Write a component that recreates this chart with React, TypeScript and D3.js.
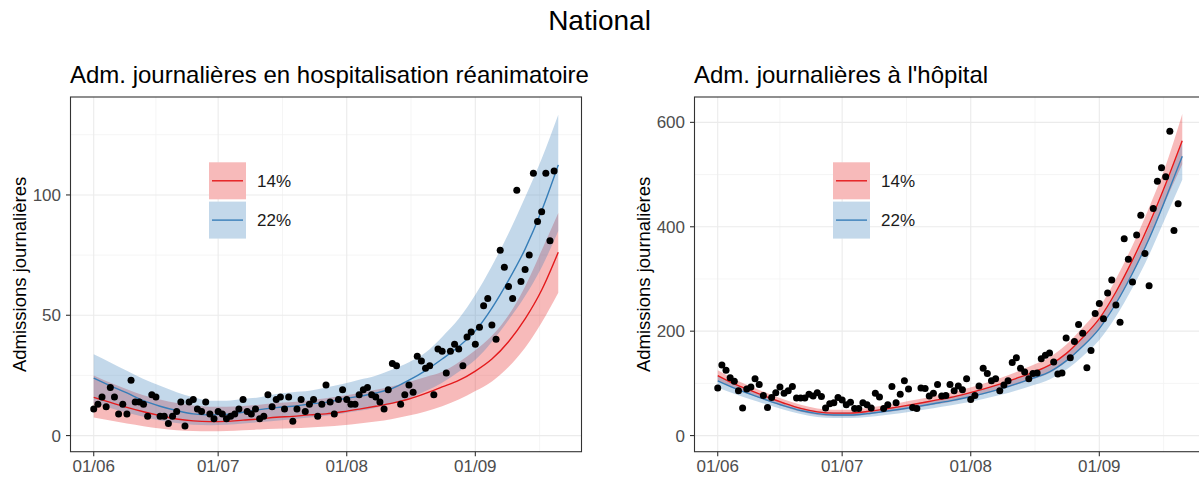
import React from 'react';
import * as d3 from 'd3';

// ---------- data ----------
const START = new Date(2020, 5, 1); // 1 June
const xTickDays = [0, 30, 61, 92];
const xTickLabels = ['01/06', '01/07', '01/08', '01/09'];
const xMinorDays = [15, 45.5, 76.5, 107.5];

const seriesLabels = ['14%', '22%'];

// observed daily admissions, one value per day from 01/06
const icuObserved = [
  11, 13, 16, 12, 20, 16, 9, 13, 9, 23,
  14, 14, 13, 8, 17, 16, 8, 8, 5, 8,
  10, 14, 4, 14, 15, 11, 10, 14, 9, 7,
  10, 9, 7, 8, 9, 11, 15, 10, 9, 11,
  7, 8, 17, 12, 15, 16, 11, 16, 6, 11,
  15, 10, 13, 15, 8, 13, 21, 14, 9, 15,
  19, 15, 13, 13, 17, 19, 20, 17, 16, 14,
  11, 19, 30, 29, 13, 17, 21, 18, 33, 31,
  28, 29, 17, 36, 35, 26, 35, 38, 36, 29,
  41, 43, 38, 45, 54, 57, 46, 40, 77, 70,
  62, 57, 102, 64, 69, 75, 109, 89, 93, 109,
  81, 110,
];

const hospObserved = [
  91, 135, 125, 111, 104, 86, 53, 89, 93, 109,
  98, 77, 54, 73, 82, 93, 81, 86, 94, 72,
  72, 72, 79, 76, 82, 75, 53, 61, 63, 73,
  68, 59, 64, 52, 52, 63, 59, 53, 81, 74,
  52, 59, 94, 63, 79, 105, 89, 54, 52, 91,
  90, 76, 81, 98, 76, 77, 98, 86, 95, 88,
  109, 69, 77, 95, 129, 119, 105, 109, 86, 97,
  105, 140, 149, 129, 122, 109, 119, 120, 147, 154,
  158, 141, 118, 120, 187, 149, 180, 213, 196, 130,
  163, 234, 253, 224, 273, 298, 250, 217, 377, 338,
  294, 384, 422, 349, 287, 435, 487, 513, 496, 583,
  393, 444,
];

// model trajectories, sampled every 4 days from 01/06
const modelDays = [0, 4, 8, 12, 16, 20, 24, 28, 32, 36, 40, 44, 48, 52, 56, 60, 64, 68, 72, 76, 80, 84, 88, 92, 96, 100, 104, 108, 112];

const icuMid14 = [15.9, 13.8, 11.7, 9.9, 8.3, 6.9, 6.1, 5.8, 5.9, 6.4, 6.9, 7.6, 8.0, 8.6, 9.0, 9.9, 11.0, 12.2, 13.5, 15.2, 17.5, 20.2, 22.9, 26.8, 31.8, 39.0, 48.5, 60.5, 76.2];
const icuLow14 = [7.5, 6.3, 5.0, 3.9, 2.9, 2.2, 1.9, 1.8, 1.9, 2.2, 2.5, 2.8, 3.0, 3.4, 3.8, 4.3, 5.0, 5.8, 6.9, 8.3, 10.0, 12.2, 15.0, 18.5, 22.5, 28.5, 36.5, 47.0, 59.4];
const icuHigh14 = [25.0, 22.0, 19.3, 16.8, 15.0, 13.5, 12.5, 12.0, 12.0, 12.3, 12.8, 13.5, 14.0, 14.7, 15.5, 16.5, 17.7, 19.0, 20.5, 22.3, 24.3, 26.5, 30.5, 35.5, 41.5, 50.0, 62.0, 77.0, 92.5];
const icuMid22 = [23.9, 20.7, 17.7, 14.5, 12.2, 10.4, 9.0, 8.6, 8.8, 9.7, 10.8, 11.6, 12.2, 13.1, 13.8, 15.2, 16.3, 17.7, 19.6, 23.0, 27.0, 31.8, 37.0, 43.5, 53.0, 64.5, 77.5, 93.5, 112.5];
const icuLow22 = [13.5, 11.5, 9.5, 7.8, 6.3, 5.2, 4.5, 4.3, 4.5, 5.0, 5.6, 6.2, 6.8, 7.5, 8.2, 9.2, 10.3, 11.6, 13.2, 15.5, 18.5, 22.0, 26.5, 31.5, 39.0, 48.0, 58.0, 70.0, 85.0];
const icuHigh22 = [33.8, 30.4, 26.9, 23.5, 20.7, 18.0, 15.9, 14.5, 14.5, 15.2, 15.9, 17.3, 18.0, 18.6, 20.0, 21.4, 23.2, 24.9, 27.5, 30.5, 34.5, 41.0, 48.5, 58.5, 70.5, 84.0, 99.0, 115.0, 133.3];

const hospMid14 = [115, 99, 86, 73.5, 62, 52, 45.5, 43, 43, 46, 50.5, 55.5, 61, 67, 73, 80.5, 89, 98.5, 109.5, 121, 135, 157, 188, 224, 275, 336, 405, 482, 565];
const hospLow14 = [105, 90, 78, 66, 55, 45.5, 39.5, 37, 37, 40, 44, 48.5, 53.5, 59, 64.5, 71.5, 79, 87.5, 97.5, 108, 120, 141, 170, 204, 252, 310, 376, 450, 520];
const hospHigh14 = [125, 108, 94, 81, 69, 59, 52, 49.5, 49.5, 53, 57.5, 63, 69, 75.5, 82, 90, 99.5, 110, 122, 135, 150, 174, 207, 245, 300, 364, 437, 517, 616];
const hospMid22 = [105, 91, 79, 67.5, 57, 48, 42, 39.5, 39.5, 42, 46, 50.5, 55.5, 61, 66.5, 73, 80.5, 89, 99, 110, 122, 143, 171, 205, 253, 311, 377, 454, 535];
const hospLow22 = [92, 80, 69, 59, 49.5, 41.5, 35.5, 33.5, 33.5, 35.5, 39, 43, 47.5, 52.5, 57.5, 63.5, 70, 77.5, 86.5, 96.5, 107.5, 126, 152, 183, 228, 283, 346, 418, 490];
const hospHigh22 = [114, 99, 86, 74, 63, 53.5, 47, 44.5, 44.5, 47.5, 51.5, 56.5, 62, 68, 74, 81, 89, 98.5, 109, 121, 134, 156, 186, 222, 272, 332, 400, 478, 562];

const icuYTicks = [0, 50, 100];
const icuYMinor = [25, 75, 125];
const hospYTicks = [0, 200, 400, 600];
const hospYMinor = [100, 300, 500];

// ---------- styling ----------
const FONT = 'Liberation Sans, Arial, Helvetica, sans-serif';
const RED = '#E41A1C';
const BLUE = '#377EB8';
const RIBBON_ALPHA = 0.3;
const W = 1199;
const H = 479;
const TOP = 97;
const BOTTOM = 451.7;
const PANEL_W = 511;

const dayToDate = (d: number) => new Date(START.getTime() + d * 86400000);

type Band = { mid: number[]; low: number[]; high: number[]; color: string };

function Panel(props: {
  x0: number;
  title: string;
  yMax: number;
  yTicks: number[];
  yMinor: number[];
  observed: number[];
  bands: Band[];
}) {
  const { x0, title, yMax, yTicks, yMinor, observed, bands } = props;
  const x1 = x0 + PANEL_W;
  const lastDay = modelDays[modelDays.length - 1];
  const pad = lastDay * 0.05;
  const x = d3.scaleTime().domain([dayToDate(-pad), dayToDate(lastDay + pad)]).range([x0, x1]);
  const y = d3.scaleLinear().domain([-yMax * 0.05, yMax * 1.05]).range([BOTTOM, TOP]);

  const area = d3
    .area<number>()
    .x((_, i) => x(dayToDate(modelDays[i])))
    .curve(d3.curveMonotoneX);
  const line = d3
    .line<number>()
    .x((_, i) => x(dayToDate(modelDays[i])))
    .y((v) => y(v))
    .curve(d3.curveMonotoneX);

  const clipId = `clip-${Math.round(x0)}`;
  const legX = x0 + 138.5;
  const legY = [162.3, 201.6];
  const key = 37;

  return (
    <g>
      <defs>
        <clipPath id={clipId}>
          <rect x={x0} y={TOP} width={PANEL_W} height={BOTTOM - TOP} />
        </clipPath>
      </defs>
      <rect x={x0} y={TOP} width={PANEL_W} height={BOTTOM - TOP} fill="#fff" />
      {/* minor grid */}
      {yMinor.map((v) => (
        <line key={`ym${v}`} x1={x0} x2={x1} y1={y(v)} y2={y(v)} stroke="#F2F2F2" strokeWidth={0.8} />
      ))}
      {xMinorDays.map((d) => (
        <line key={`xm${d}`} x1={x(dayToDate(d))} x2={x(dayToDate(d))} y1={TOP} y2={BOTTOM} stroke="#F2F2F2" strokeWidth={0.8} />
      ))}
      {/* major grid */}
      {yTicks.map((v) => (
        <line key={`yg${v}`} x1={x0} x2={x1} y1={y(v)} y2={y(v)} stroke="#EBEBEB" strokeWidth={1.1} />
      ))}
      {xTickDays.map((d) => (
        <line key={`xg${d}`} x1={x(dayToDate(d))} x2={x(dayToDate(d))} y1={TOP} y2={BOTTOM} stroke="#EBEBEB" strokeWidth={1.1} />
      ))}
      <g clipPath={`url(#${clipId})`}>
        {bands.map((b, k) => (
          <path
            key={`r${k}`}
            d={area.y0((_, i) => y(b.low[i])).y1((_, i) => y(b.high[i]))(b.mid) || ''}
            fill={b.color}
            fillOpacity={RIBBON_ALPHA}
          />
        ))}
        {bands.map((b, k) => (
          <path key={`l${k}`} d={line(b.mid) || ''} fill="none" stroke={b.color} strokeWidth={1.4} />
        ))}
        {observed.map((v, i) => (
          <circle key={`p${i}`} cx={x(dayToDate(i))} cy={y(v)} r={3.5} fill="#000" />
        ))}
      </g>
      {/* legend */}
      {bands.map((b, k) => (
        <g key={`lg${k}`}>
          <rect x={legX} y={legY[k]} width={key} height={key} fill="#fff" />
          <rect x={legX} y={legY[k]} width={key} height={key} fill={b.color} fillOpacity={RIBBON_ALPHA} />
          <line x1={legX + 3} x2={legX + key - 3} y1={legY[k] + key / 2} y2={legY[k] + key / 2} stroke={b.color} strokeWidth={1.4} />
          <text x={legX + key + 11} y={legY[k] + key / 2} dy="0.36em" fontSize={17} fill="#1A1A1A" fontFamily={FONT}>
            {seriesLabels[k]}
          </text>
        </g>
      ))}
      {/* border */}
      <rect x={x0} y={TOP} width={PANEL_W} height={BOTTOM - TOP} fill="none" stroke="#333333" strokeWidth={1.1} />
      {/* y axis */}
      {yTicks.map((v) => (
        <g key={`yt${v}`}>
          <line x1={x0 - 4.5} x2={x0} y1={y(v)} y2={y(v)} stroke="#333333" strokeWidth={1.1} />
          <text x={x0 - 9.5} y={y(v)} dy="0.36em" textAnchor="end" fontSize={17} fill="#4D4D4D" fontFamily={FONT}>
            {v}
          </text>
        </g>
      ))}
      {/* x axis */}
      {xTickDays.map((d, i) => (
        <g key={`xt${d}`}>
          <line x1={x(dayToDate(d))} x2={x(dayToDate(d))} y1={BOTTOM} y2={BOTTOM + 4.5} stroke="#333333" strokeWidth={1.1} />
          <text x={x(dayToDate(d))} y={BOTTOM + 20.5} textAnchor="middle" fontSize={17} fill="#4D4D4D" fontFamily={FONT}>
            {xTickLabels[i]}
          </text>
        </g>
      ))}
      <text
        transform={`translate(${x0 - 45},${(TOP + BOTTOM) / 2}) rotate(-90)`}
        textAnchor="middle"
        fontSize={18.5}
        fill="#000"
        fontFamily={FONT}
      >
        Admissions journalières
      </text>
      <text x={x0 - 0.5} y={83} fontSize={24} fill="#000" fontFamily={FONT}>
        {title}
      </text>
    </g>
  );
}

export default function App() {
  return (
    <svg
      width={W}
      height={H}
      viewBox={`0 0 ${W} ${H}`}
      style={{ position: 'absolute', left: 0, top: 0, background: '#fff', overflow: 'hidden' }}
    >
      <rect x={0} y={0} width={W} height={H} fill="#fff" />
      <text x={599.5} y={30} textAnchor="middle" fontSize={28} fill="#000" fontFamily={FONT}>
        National
      </text>
      <Panel
        x0={70.5}
        title="Adm. journalières en hospitalisation réanimatoire"
        yMax={134}
        yTicks={icuYTicks}
        yMinor={icuYMinor}
        observed={icuObserved}
        bands={[
          { mid: icuMid14, low: icuLow14, high: icuHigh14, color: RED },
          { mid: icuMid22, low: icuLow22, high: icuHigh22, color: BLUE },
        ]}
      />
      <Panel
        x0={694.5}
        title="Adm. journalières à l'hôpital"
        yMax={617.7}
        yTicks={hospYTicks}
        yMinor={hospYMinor}
        observed={hospObserved}
        bands={[
          { mid: hospMid14, low: hospLow14, high: hospHigh14, color: RED },
          { mid: hospMid22, low: hospLow22, high: hospHigh22, color: BLUE },
        ]}
      />
    </svg>
  );
}
